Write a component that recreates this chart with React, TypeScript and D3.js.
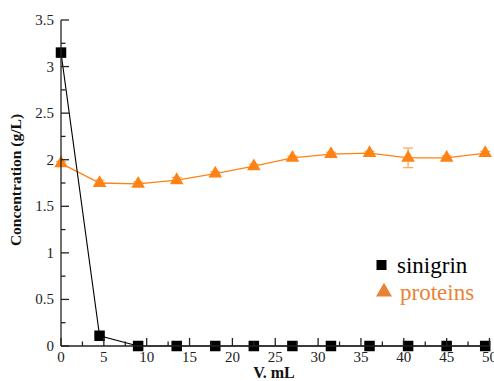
import React from "react";
import * as d3 from "d3";

const volumes = [0, 4.5, 9, 13.5, 18, 22.5, 27, 31.5, 36, 40.5, 45, 49.5];
const sinigrin = [3.15, 0.11, 0, 0, 0, 0, 0, 0, 0, 0, 0, 0];
const proteins = [1.96, 1.75, 1.74, 1.78, 1.85, 1.93, 2.02, 2.06, 2.07, 2.02, 2.02, 2.07];
const proteinErr = [0.02, 0.03, 0.02, 0.03, 0.02, 0.02, 0.02, 0.02, 0.02, 0.105, 0.02, 0.02];
const xTicks = [0, 5, 10, 15, 20, 25, 30, 35, 40, 45, 50];
const yTicks = [0, 0.5, 1, 1.5, 2, 2.5, 3, 3.5];
const legendLabels = ["sinigrin", "proteins"];

const W = 494, H = 381;
const X0 = 61, X1 = 489.5, Y0 = 346, Y1 = 20;
const ORANGE = "#ff8214";
const ORANGE_TEXT = "#ea8236";
const ERR = "#ffaa55";
const ts = { fontFamily: "Liberation Serif" };

export default function App() {
  const x = d3.scaleLinear().domain([0, 50]).range([X0, X1]);
  const y = d3.scaleLinear().domain([0, 3.5]).range([Y0, Y1]);
  const xMinor = d3.range(0, 50.01, 2.5).filter((v) => !xTicks.includes(v));
  const yMinor = d3.range(0, 3.51, 0.25).filter((v) => !yTicks.some((t) => Math.abs(t - v) < 1e-6));

  const lineGen = d3
    .line<[number, number]>()
    .x((d) => x(d[0]))
    .y((d) => y(d[1]));
  const sinPts: [number, number][] = volumes.map((v, i) => [v, sinigrin[i]]);
  const proPts: [number, number][] = volumes.map((v, i) => [v, proteins[i]]);
  const tri = d3.symbol().type(d3.symbolTriangle).size(80)();
  const sq = 10.5;

  return (
    <svg width={W} height={H} style={{ position: "absolute", left: 0, top: 0, background: "#fff" }}>
      {/* protein line + error bars */}
      <path d={lineGen(proPts) || ""} fill="none" stroke={ORANGE} strokeWidth={1.3} />
      {proPts.map(([v, c], i) => {
        const e = proteinErr[i];
        const cx = x(v);
        return (
          <g key={"e" + i} stroke={ERR} strokeWidth={1.3}>
            <line x1={cx} x2={cx} y1={y(c + e)} y2={y(c - e)} />
            <line x1={cx - 5} x2={cx + 5} y1={y(c + e)} y2={y(c + e)} />
            <line x1={cx - 5} x2={cx + 5} y1={y(c - e)} y2={y(c - e)} />
          </g>
        );
      })}
      {proPts.map(([v, c], i) => (
        <path key={"t" + i} d={tri || ""} transform={`translate(${x(v)},${y(c)})`} fill={ORANGE} />
      ))}

      {/* sinigrin */}
      <path d={lineGen(sinPts) || ""} fill="none" stroke="#000" strokeWidth={1.1} />
      {sinPts.map(([v, c], i) => (
        <rect key={"s" + i} x={x(v) - sq / 2} y={y(c) - sq / 2} width={sq} height={sq} fill="#000" />
      ))}

      {/* axes */}
      <g stroke="#222" strokeWidth={1.3}>
        <line x1={X0} x2={X1} y1={Y0} y2={Y0} />
        <line x1={X0} x2={X0} y1={Y0} y2={Y1} />
        {xTicks.map((t) => (
          <line key={"xt" + t} x1={x(t)} x2={x(t)} y1={Y0} y2={Y0 - 8} />
        ))}
        {xMinor.map((t) => (
          <line key={"xm" + t} x1={x(t)} x2={x(t)} y1={Y0} y2={Y0 - 4.5} />
        ))}
        {yTicks.map((t) => (
          <line key={"yt" + t} x1={X0} x2={X0 + 8} y1={y(t)} y2={y(t)} />
        ))}
        {yMinor.map((t) => (
          <line key={"ym" + t} x1={X0} x2={X0 + 4.5} y1={y(t)} y2={y(t)} />
        ))}
      </g>
      {xTicks.map((t) => (
        <text key={"xl" + t} x={x(t)} y={Y0 + 16} textAnchor="middle" fontSize={15} fill="#222" style={ts}>
          {t}
        </text>
      ))}
      {yTicks.map((t) => (
        <text key={"yl" + t} x={X0 - 7} y={y(t) + 5} textAnchor="end" fontSize={15} fill="#222" style={ts}>
          {t}
        </text>
      ))}
      <text x={274} y={378} textAnchor="middle" fontSize={16} fontWeight="bold" fill="#111" style={ts}>
        V. mL
      </text>
      <text
        transform="translate(21,180) rotate(-90)"
        textAnchor="middle"
        fontSize={15.5}
        fontWeight="bold"
        fill="#111"
        style={ts}
      >
        Concentration (g/L)
      </text>

      {/* legend */}
      <rect x={376.5} y={260} width={10} height={10} fill="#000" />
      <text x={397} y={273} fontSize={23} fill="#000" style={ts}>
        {legendLabels[0]}
      </text>
      <path
        d={d3.symbol().type(d3.symbolTriangle).size(110)() || ""}
        transform="translate(384,292)"
        fill={ORANGE_TEXT}
      />
      <text x={400} y={300} fontSize={23} fill={ORANGE_TEXT} style={ts}>
        {legendLabels[1]}
      </text>
    </svg>
  );
}
